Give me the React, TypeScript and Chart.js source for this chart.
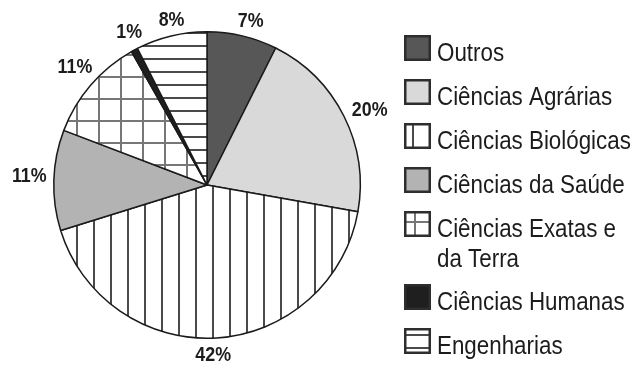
import React, { useEffect, useRef } from 'react';
import { Chart, registerables } from 'chart.js';

Chart.register(...registerables);

// ---- data ----
const categories = [
  'Outros',
  'Ciências Agrárias',
  'Ciências Biológicas',
  'Ciências da Saúde',
  'Ciências Exatas e da Terra',
  'Ciências Humanas',
  'Engenharias',
];
const legendLines = [
  ['Outros'],
  ['Ciências Agrárias'],
  ['Ciências Biológicas'],
  ['Ciências da Saúde'],
  ['Ciências Exatas e', 'da Terra'],
  ['Ciências Humanas'],
  ['Engenharias'],
];
// slice sizes (the printed labels are rounded)
const values = [7.4, 20.4, 42.4, 10.6, 11.0, 0.7, 7.5];
const valueLabels = ['7%', '20%', '42%', '11%', '11%', '1%', '8%'];
const fillKinds = ['solid:#575757', 'solid:#d9d9d9', 'vertical', 'solid:#b3b3b3', 'grid', 'solid:#1f1f1f', 'horizontal'];

const TEXT = '#1c1c1c';
const FONT = '"Liberation Sans", Arial, sans-serif';

function makeFill(kind: string): string | CanvasPattern {
  if (kind.startsWith('solid:')) return kind.slice(6);
  const size = kind === 'vertical' ? 17 : kind === 'grid' ? 22 : 13;
  const c = document.createElement('canvas');
  c.width = size;
  c.height = size;
  const g = c.getContext('2d')!;
  g.fillStyle = '#ffffff';
  g.fillRect(0, 0, size, size);
  if (kind === 'vertical') {
    g.fillStyle = '#4a4a4a';
    g.fillRect(8, 0, 2, size);
  } else if (kind === 'grid') {
    g.fillStyle = '#777777';
    g.fillRect(10, 0, 2, size);
    g.fillRect(0, 10, size, 2);
  } else {
    g.fillStyle = '#4a4a4a';
    g.fillRect(0, 6, size, 2);
  }
  return g.createPattern(c, 'repeat')!;
}

function drawScaledText(ctx: CanvasRenderingContext2D, text: string, x: number, y: number, sx: number, align: CanvasTextAlign) {
  ctx.save();
  ctx.translate(x, y);
  ctx.scale(sx, 1);
  ctx.textAlign = align;
  ctx.textBaseline = 'alphabetic';
  ctx.fillText(text, 0, 0);
  ctx.restore();
}

const labelPlugin = {
  id: 'pctLabels',
  afterDatasetsDraw(chart: any) {
    const ctx: CanvasRenderingContext2D = chart.ctx;
    const meta = chart.getDatasetMeta(0);
    const sx = 0.85;
    const capH = 15.3;
    ctx.save();
    ctx.font = `bold 21px ${FONT}`;
    ctx.fillStyle = TEXT;
    meta.data.forEach((arc: any, i: number) => {
      const { x, y, startAngle, endAngle, outerRadius } = arc.getProps(
        ['x', 'y', 'startAngle', 'endAngle', 'outerRadius'],
        true
      );
      const label = valueLabels[i];
      const mid = (startAngle + endAngle) / 2 + (1.5 * Math.PI) / 180;
      const cos = Math.cos(mid);
      const sin = Math.sin(mid);
      const w = ctx.measureText(label).width * sx;
      const d = outerRadius + 7 + (Math.abs(cos) * w) / 2 + (Math.abs(sin) * capH) / 2;
      const cx = x + cos * d;
      const cy = y + sin * d;
      drawScaledText(ctx, label, cx, cy + capH / 2, sx, 'center');
    });
    ctx.restore();
  },
};

const legendPlugin = {
  id: 'sideLegend',
  afterDraw(chart: any) {
    const ctx: CanvasRenderingContext2D = chart.ctx;
    const fills = chart.data.datasets[0].backgroundColor;
    const boxX = 404;
    const boxW = 27;
    const boxH = 26;
    const textX = 437;
    const rowStep = 44;
    const lineStep = 30;
    let top = 35;
    ctx.save();
    legendLines.forEach((lines, i) => {
      ctx.save();
      ctx.translate(boxX, top);
      ctx.fillStyle = fills[i];
      ctx.fillRect(0, 0, boxW, boxH);
      ctx.restore();
      ctx.lineWidth = 2.5;
      ctx.strokeStyle = '#2e2e2e';
      ctx.strokeRect(boxX + 1.25, top + 1.25, boxW - 2.5, boxH - 2.5);
      ctx.font = `26px ${FONT}`;
      ctx.fillStyle = TEXT;
      lines.forEach((t, k) => {
        drawScaledText(ctx, t, textX, top + boxH + k * lineStep, 0.86, 'left');
      });
      top += rowStep + (lines.length - 1) * 29;
    });
    ctx.restore();
  },
};

export default function App() {
  const ref = useRef<HTMLCanvasElement | null>(null);

  useEffect(() => {
    document.body.style.margin = '0';
    const canvas = ref.current!;
    const chart = new Chart(canvas, {
      type: 'pie',
      data: {
        labels: categories,
        datasets: [
          {
            data: values,
            backgroundColor: fillKinds.map(makeFill) as any,
            borderColor: '#1a1a1a',
            borderWidth: 1.5,
            hoverOffset: 0,
          },
        ],
      },
      options: {
        responsive: false,
        animation: false,
        devicePixelRatio: 1,
        layout: { padding: { left: 53, top: 31, right: 283, bottom: 27 } },
        plugins: {
          legend: { display: false },
          tooltip: { enabled: false },
        },
      },
      plugins: [labelPlugin, legendPlugin],
    });
    return () => chart.destroy();
  }, []);

  return (
    <div style={{ width: 644, height: 366, background: '#ffffff' }}>
      <canvas ref={ref} width={644} height={366} style={{ display: 'block' }} />
    </div>
  );
}
